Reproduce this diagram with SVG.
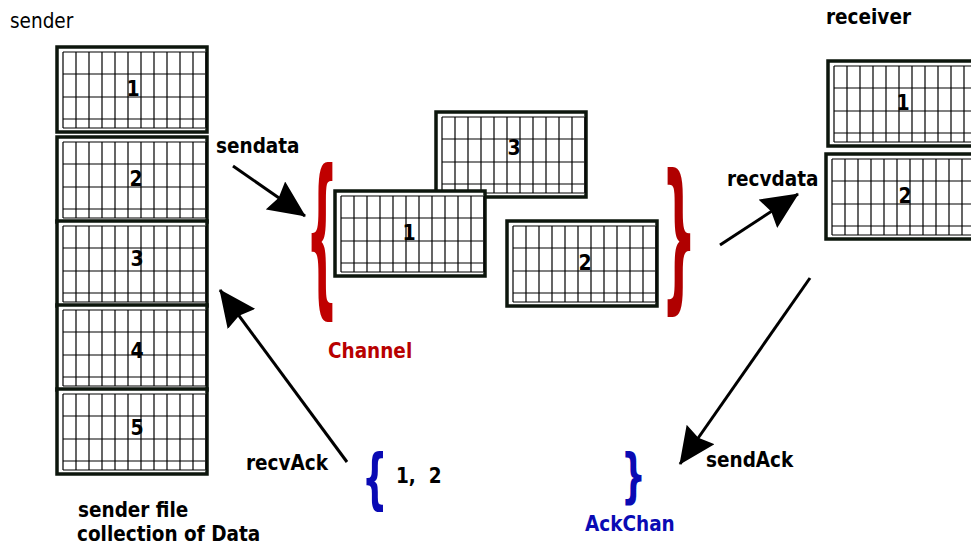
<svg xmlns="http://www.w3.org/2000/svg" width="971" height="547" viewBox="0 0 971 547">
  <style>
    text { font-family: "DejaVu Sans Condensed", "DejaVu Sans", "Liberation Sans", sans-serif; }
    .lbl { font-size: 20.5px; font-weight: bold; fill: #000; }
    .num { font-size: 21px; font-weight: bold; fill: #000; text-anchor: middle; }
    .plain { font-size: 20.5px; fill: #000; }
    .frame { fill: #fff; stroke: #0d160d; stroke-width: 3.5; }
    .grid { fill: none; stroke: #000; stroke-width: 1.2; }
    .conn { stroke: #000; stroke-width: 3; fill: none; marker-end: url(#head); }
    .brace { font-family: "DejaVu Sans", sans-serif; font-weight: bold; }
    .red { fill: #c00000; font-weight: bold; }
    .blue { fill: #0a0ab4; font-weight: bold; }
  </style>
  <defs>
    <marker id="head" viewBox="0 0 37 34" refX="36" refY="17" markerWidth="37" markerHeight="34" markerUnits="userSpaceOnUse" orient="auto">
      <path d="M0,0 L37,17 L0,34 L4,17 z" fill="#000"/>
    </marker>
    <!-- one data packet: framed sheet with an 11-column grid -->
    <g id="pkt">
      <rect class="frame" x="0" y="0" width="150" height="85"/>
      <path class="grid" d="M6,5V81 M19,5V81 M32,5V81 M45,5V81 M58,5V81 M71,5V81 M84,5V81 M97,5V81 M110,5V81 M123,5V81 M136,5V81 M149,5V81 M6,5H148 M6,27H148 M6,50H148 M6,72H148 M6,81H148"/>
    </g>
  </defs>
  <rect width="971" height="547" fill="#fff"/>

  <!-- sender side -->
  <g id="sender">
    <text class="plain" x="10" y="28">sender</text>
    <g id="s1"><use href="#pkt" x="57" y="47"/><text class="num" x="133" y="96">1</text></g>
    <g id="s2"><use href="#pkt" x="57" y="137"/><text class="num" x="136" y="186">2</text></g>
    <g id="s3"><use href="#pkt" x="57" y="221"/><text class="num" x="137" y="266">3</text></g>
    <g id="s4"><use href="#pkt" x="57" y="305"/><text class="num" x="137" y="358">4</text></g>
    <g id="s5"><use href="#pkt" x="57" y="389"/><text class="num" x="137" y="435">5</text></g>
    <text class="lbl" x="78" y="517">sender file</text>
    <text class="lbl" x="77" y="541">collection of Data</text>
  </g>

  <!-- packets in the channel -->
  <g id="channel">
    <g id="c3"><use href="#pkt" x="436" y="112"/><text class="num" x="514" y="155">3</text></g>
    <g id="c1"><use href="#pkt" x="335" y="191"/><text class="num" x="409" y="240">1</text></g>
    <g id="c2"><use href="#pkt" x="507" y="221"/><text class="num" x="585" y="270">2</text></g>
    <text class="brace red" transform="translate(306,293.5) scale(0.26,1)" font-size="173">{</text>
    <text class="brace red" transform="translate(661.5,290) scale(0.3,1)" font-size="163" style="fill:#b00000">}</text>
    <text class="lbl red" x="328" y="358" style="fill:#b80000">Channel</text>
  </g>

  <!-- receiver side -->
  <g id="receiver">
    <text class="lbl" x="826" y="24">receiver</text>
    <g id="r1"><use href="#pkt" x="828" y="61"/><text class="num" x="903" y="110">1</text></g>
    <g id="r2"><use href="#pkt" x="826" y="154"/><text class="num" x="905" y="203">2</text></g>
  </g>

  <!-- acknowledgement channel -->
  <g id="ackchan">
    <text class="brace blue" transform="translate(362,501) scale(0.55,1)" font-size="65">{</text>
    <text class="lbl" x="396" y="483" style="white-space:pre">1,  2</text>
    <text class="brace blue" transform="translate(621,496) scale(0.6,1)" font-size="58">}</text>
    <text class="lbl blue" x="585" y="531">AckChan</text>
  </g>

  <!-- connectors -->
  <g id="connectors">
    <line class="conn" x1="233" y1="166" x2="305" y2="216"/>
    <line class="conn" x1="720" y1="245" x2="798" y2="194"/>
    <line class="conn" x1="347" y1="462" x2="220" y2="290"/>
    <line class="conn" x1="810" y1="278" x2="680" y2="464"/>
    <text class="lbl" x="216" y="153">sendata</text>
    <text class="lbl" x="727" y="186">recvdata</text>
    <text class="lbl" x="246" y="470">recvAck</text>
    <text class="lbl" x="706" y="467">sendAck</text>
  </g>
</svg>
